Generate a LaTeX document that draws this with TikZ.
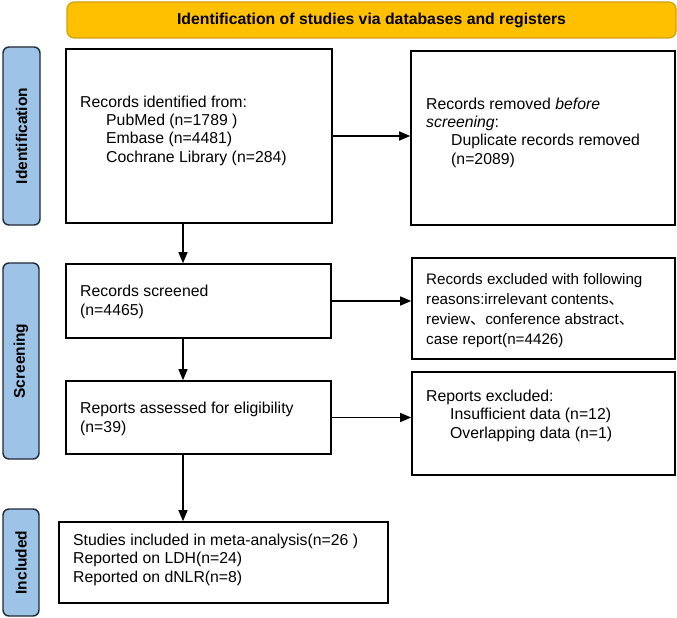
\documentclass[tikz,border=0pt]{standalone}
\usepackage{fontspec}
\setmainfont{Liberation Sans}
\newfontfamily\cjk{Noto Sans CJK SC}
\usetikzlibrary{arrows.meta}
\definecolor{gold}{HTML}{FFC000}
\definecolor{goldedge}{HTML}{D4A017}
\definecolor{sideblue}{HTML}{9DC3E6}
\definecolor{sideedge}{HTML}{1F2A36}
\begin{document}
\begin{tikzpicture}[x=1pt,y=-1pt,
  box/.style={draw, line width=1.6pt, inner sep=0pt},
  txt/.style={anchor=base west, align=left, inner sep=0pt, font=\fontsize{15.8}{18.3}\selectfont},
  side/.style={draw=sideedge, fill=sideblue, line width=1.4pt, rounded corners=6pt, rotate=90, inner sep=0pt, font=\bfseries\fontsize{15.5}{18}\selectfont},
  arr/.style={line width=1.2pt, -{Triangle[length=11pt,width=9pt]}}]
\useasboundingbox (0,0) rectangle (677,618);
\fill[white] (0,0) rectangle (677,618);

% banner
\node[draw=goldedge, fill=gold, line width=1.2pt, rounded corners=7pt, minimum width=609pt, minimum height=36pt, inner sep=0pt,
  font=\bfseries\fontsize{15.8}{18}\selectfont] (banner) at (371.5,20) {Identification of studies via databases and registers};

% side bars
\node[side, minimum width=178pt, minimum height=37pt] (idbar) at (21.5,136) {Identification};
\node[side, minimum width=196pt, minimum height=36pt] (scbar) at (21,361) {Screening};
\node[side, minimum width=107pt, minimum height=36pt] (inbar) at (21,562.5) {Included};

% boxes
\node[box, minimum width=266pt, minimum height=174pt] (box1) at (199,136) {};
\node[box, minimum width=264pt, minimum height=174pt] (box2) at (543,138) {};
\node[box, minimum width=265pt, minimum height=74pt] (box3) at (198.5,301) {};
\node[box, minimum width=263pt, minimum height=101pt] (box4) at (543.5,308.5) {};
\node[box, minimum width=265pt, minimum height=73pt] (box5) at (198.5,417.5) {};
\node[box, minimum width=263pt, minimum height=103pt] (box6) at (543.5,423.5) {};
\node[box, minimum width=329pt, minimum height=81pt] (box7) at (223.5,562.5) {};

% texts (anchored at the baseline of the last line)
\node[txt] (t1) at (80,162) {Records identified from:\\
  \hspace*{26pt}PubMed (n=1789 )\\
  \hspace*{26pt}Embase (n=4481)\\
  \hspace*{26pt}Cochrane Library (n=284)};
\node[txt] (t2) at (426,164) {Records removed \textit{before}\\
  \textit{screening}:\\
  \hspace*{25pt}Duplicate records removed\\
  \hspace*{25pt}(n=2089)};
\node[txt] (t3) at (80,315) {Records screened\\(n=4465)};
\node[txt, font=\fontsize{15.2}{19.7}\selectfont] (t4) at (426,344) {Records excluded with following\\
  reasons:irrelevant contents{\cjk 、}\\
  review{\cjk 、}conference abstract{\cjk 、}\\
  case report(n=4426)};
\node[txt] (t5) at (80,432) {Reports assessed for eligibility\\(n=39)};
\node[txt] (t6) at (426,438) {Reports excluded:\\
  \hspace*{24pt}Insufficient data (n=12)\\
  \hspace*{24pt}Overlapping data (n=1)};
\node[txt] (t7) at (73,582) {Studies included in meta-analysis(n=26 )\\
  Reported on LDH(n=24)\\
  Reported on dNLR(n=8)};

% connectors
\coordinate (ax) at (183,0);
\draw[arr] (box1.east) -- (box1.east -| box2.west);
\draw[arr] (box3.east) -- (box3.east -| box4.west);
\draw[arr] (box5.east) -- (box5.east -| box6.west);
\draw[arr] (box1.south -| ax) -- (box3.north -| ax);
\draw[arr] (box3.south -| ax) -- (box5.north -| ax);
\draw[arr] (box5.south -| ax) -- (box7.north -| ax);
\end{tikzpicture}
\end{document}
